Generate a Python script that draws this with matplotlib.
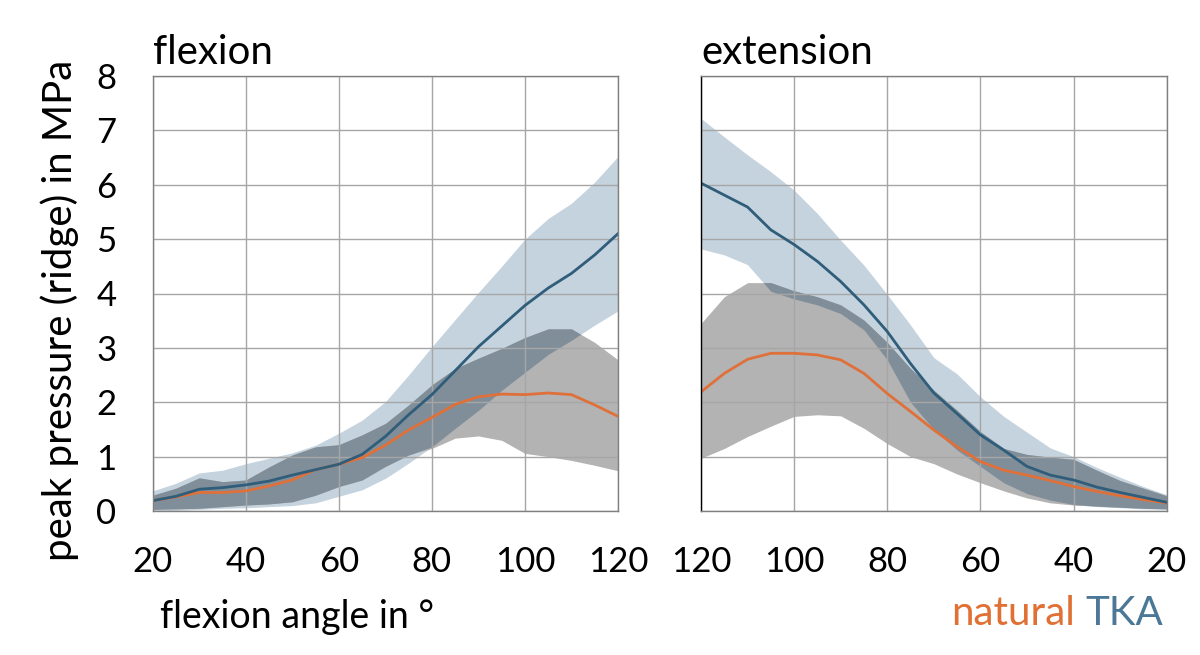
import numpy as np
import matplotlib
matplotlib.use("Agg")
import matplotlib.pyplot as plt

plt.rcParams['font.family'] = ['Lato', 'DejaVu Sans']

# ---------------- data ----------------
flex_deg = [20, 25, 30, 35, 40, 45, 50, 55, 60, 65, 70, 75, 80, 85, 90, 95, 100, 105, 110, 115, 120]
flex_tka_mean = [0.19, 0.27, 0.40, 0.43, 0.48, 0.55, 0.66, 0.76, 0.86, 1.04, 1.37, 1.77, 2.14, 2.58, 3.02, 3.40, 3.78, 4.10, 4.37, 4.71, 5.10]
flex_tka_up = [0.37, 0.51, 0.70, 0.75, 0.87, 0.97, 1.07, 1.21, 1.43, 1.67, 2.01, 2.50, 3.02, 3.52, 4.02, 4.50, 5.00, 5.38, 5.66, 6.05, 6.52]
flex_tka_lo = [0.00, 0.01, 0.03, 0.05, 0.06, 0.08, 0.10, 0.15, 0.27, 0.39, 0.60, 0.88, 1.18, 1.52, 1.85, 2.22, 2.55, 2.88, 3.14, 3.42, 3.68]
flex_nat_mean = [0.19, 0.26, 0.34, 0.34, 0.37, 0.46, 0.57, 0.76, 0.86, 0.98, 1.21, 1.49, 1.72, 1.96, 2.10, 2.15, 2.14, 2.17, 2.14, 1.95, 1.74]
flex_nat_up = [0.29, 0.42, 0.61, 0.54, 0.57, 0.81, 1.03, 1.18, 1.22, 1.40, 1.61, 1.95, 2.32, 2.62, 2.81, 2.99, 3.19, 3.35, 3.35, 3.10, 2.78]
flex_nat_lo = [0.03, 0.04, 0.05, 0.08, 0.11, 0.13, 0.17, 0.29, 0.45, 0.57, 0.82, 1.03, 1.15, 1.34, 1.38, 1.30, 1.06, 1.00, 0.93, 0.84, 0.74]

ext_deg = [120, 115, 110, 105, 100, 95, 90, 85, 80, 75, 70, 65, 60, 55, 50, 45, 40, 35, 30, 25, 20]
ext_tka_mean = [6.03, 5.81, 5.59, 5.17, 4.90, 4.59, 4.22, 3.79, 3.30, 2.71, 2.17, 1.79, 1.40, 1.12, 0.82, 0.66, 0.57, 0.44, 0.34, 0.25, 0.16]
ext_tka_up = [7.22, 6.88, 6.55, 6.24, 5.90, 5.47, 4.98, 4.52, 3.98, 3.42, 2.82, 2.52, 2.10, 1.74, 1.45, 1.16, 1.00, 0.80, 0.62, 0.45, 0.30]
ext_tka_lo = [4.82, 4.71, 4.53, 4.04, 3.90, 3.79, 3.63, 3.33, 2.78, 2.00, 1.50, 1.12, 0.82, 0.52, 0.32, 0.20, 0.12, 0.08, 0.06, 0.04, 0.03]
ext_nat_mean = [2.19, 2.53, 2.79, 2.90, 2.90, 2.87, 2.78, 2.53, 2.16, 1.83, 1.49, 1.18, 0.91, 0.75, 0.66, 0.56, 0.45, 0.36, 0.28, 0.21, 0.15]
ext_nat_up = [3.45, 3.94, 4.20, 4.20, 4.05, 3.94, 3.79, 3.51, 3.10, 2.62, 2.22, 1.85, 1.46, 1.15, 1.04, 0.99, 0.95, 0.75, 0.56, 0.42, 0.28]
ext_nat_lo = [0.97, 1.15, 1.37, 1.56, 1.74, 1.77, 1.75, 1.52, 1.24, 1.00, 0.87, 0.68, 0.52, 0.37, 0.24, 0.15, 0.11, 0.09, 0.07, 0.05, 0.04]

x_ticks = [20, 40, 60, 80, 100, 120]
y_ticks = [0, 1, 2, 3, 4, 5, 6, 7, 8]

# ---------------- style ----------------
C_TKA_BAND = '#c5d3de'
C_NAT_BAND = '#b3b3b3'
C_OVERLAP = '#808e99'
C_TKA_LINE = '#2f5d7a'
C_NAT_LINE = '#e0703a'
C_TKA_TEXT = '#4a7896'
C_NAT_TEXT = '#e07034'
GRID = '#a6a6a6'

W, H = 1200, 655
fig = plt.figure(figsize=(W / 100, H / 100), dpi=100)

def axes_px(x0, x1, y0, y1):
    return fig.add_axes([x0 / W, 1 - y1 / H, (x1 - x0) / W, (y1 - y0) / H])

ax1 = axes_px(152.7, 618, 76, 511)
ax2 = axes_px(701, 1166.7, 76, 511)

def draw(ax, deg, tm, tu, tl, nm, nu, nl):
    deg = np.asarray(deg, float)
    tu, tl, nu, nl = map(lambda a: np.asarray(a, float), (tu, tl, nu, nl))
    ax.fill_between(deg, tl, tu, color=C_TKA_BAND, lw=0, zorder=1)
    ax.fill_between(deg, nl, nu, color=C_NAT_BAND, lw=0, zorder=1.1)
    lo = np.maximum(tl, nl)
    hi = np.minimum(tu, nu)
    ax.fill_between(deg, lo, hi, where=hi > lo, interpolate=True,
                    color=C_OVERLAP, lw=0, zorder=1.2)
    ax.plot(deg, nm, color=C_NAT_LINE, lw=2.0, zorder=3)
    ax.plot(deg, tm, color=C_TKA_LINE, lw=2.0, zorder=3.1)
    ax.set_ylim(0, 8)
    ax.set_xticks(x_ticks)
    ax.set_yticks(y_ticks)
    ax.set_axisbelow(False)
    ax.grid(True, color=GRID, lw=1.0, zorder=2)
    ax.tick_params(length=0, labelsize=25, pad=25)
    for s in ax.spines.values():
        s.set_color('#808080')
        s.set_linewidth(1.0)
        s.set_zorder(4)

draw(ax1, flex_deg, flex_tka_mean, flex_tka_up, flex_tka_lo,
     flex_nat_mean, flex_nat_up, flex_nat_lo)
ax1.set_xlim(20, 120)
ax1.tick_params(axis='y', pad=26)

draw(ax2, ext_deg, ext_tka_mean, ext_tka_up, ext_tka_lo,
     ext_nat_mean, ext_nat_up, ext_nat_lo)
ax2.set_xlim(120, 20)
ax2.tick_params(axis='y', labelleft=False)
ax2.spines['left'].set_color('#000000')

fs_big = 29
fig.text(153 / W, 1 - 64 / H, 'flexion', fontsize=fs_big, ha='left', va='baseline')
fig.text(701 / W, 1 - 64 / H, 'extension', fontsize=fs_big, ha='left', va='baseline')
fig.text(60 / W, 1 - 310 / H, 'peak pressure (ridge) in MPa', fontsize=fs_big,
         rotation=90, ha='center', va='center')
fig.text(160 / W, 1 - 628 / H, 'flexion angle in °', fontsize=27, ha='left', va='baseline')
fig.text(1075 / W, 1 - 625 / H, 'natural', fontsize=fs_big, color=C_NAT_TEXT, ha='right', va='baseline')
fig.text(1163 / W, 1 - 625 / H, 'TKA', fontsize=fs_big, color=C_TKA_TEXT, ha='right', va='baseline')

fig.savefig('out.png', dpi=100)
